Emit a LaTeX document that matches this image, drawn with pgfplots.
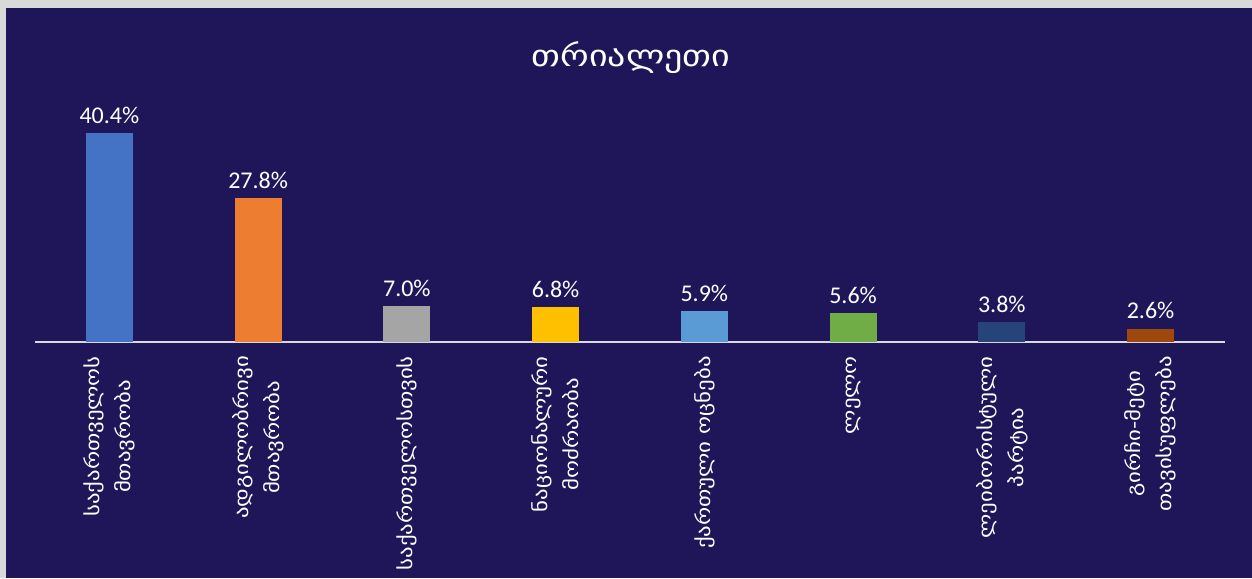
\documentclass[border=0pt]{standalone}
\usepackage{fontspec}
\setmainfont{Carlito}
\newfontfamily\geo[FakeStretch=1.2]{DejaVu Sans}
\usepackage{pgfplots}
\pgfplotsset{compat=1.18}

\definecolor{bg}{HTML}{1F165A}
\definecolor{frame}{HTML}{D9D9D9}
\definecolor{c1}{HTML}{4472C4}
\definecolor{c2}{HTML}{ED7D31}
\definecolor{c3}{HTML}{A5A5A5}
\definecolor{c4}{HTML}{FFC000}
\definecolor{c5}{HTML}{5B9BD5}
\definecolor{c6}{HTML}{70AD47}
\definecolor{c7}{HTML}{264478}
\definecolor{c8}{HTML}{9E480E}

\pgfplotsset{
  onebar/.style={ybar, bar shift=0pt, bar width=47pt, draw=none, fill=#1},
}

\begin{document}
\begin{tikzpicture}
\path[use as bounding box] (0,0) rectangle (1252pt,578pt);
\fill[frame] (0,0) rectangle (1252pt,578pt);
\fill[bg] (6pt,0) rectangle (1252pt,570pt);
\node[anchor=base, text=white, font=\geo\fontsize{30}{36}\selectfont] at (631pt,511pt) {თრიალეთი};

\begin{axis}[
  at={(35pt,236pt)}, anchor=south west,
  scale only axis, width=1190pt, height=237.8pt,
  xmin=-0.5, xmax=7.5, ymin=0, ymax=46,
  axis y line=none,
  axis x line=bottom,
  x axis line style={draw=frame, line width=1.5pt, -},
  xtick={0,...,7},
  major tick length=0pt,
  xticklabels={{საქართველოს\\მთავრობა},{ადგილობრივი\\მთავრობა},{საქართველოსთვის},{ნაციონალური\\მოძრაობა},{ქართული ოცნება},{ლელო},{ლეიბორისტული\\პარტია},{გირჩი-მეტი\\თავისუფლება}},
  xticklabel style={rotate=90, anchor=east, align=center, text=white,
    font=\geo\fontsize{19}{31}\selectfont, inner sep=0pt, xshift=-14pt},
  /pgf/number format/assume math mode=true,
  nodes near coords={\pgfmathprintnumber[fixed,fixed zerofill,precision=1,assume math mode=true]{\pgfplotspointmeta}\%},
  every node near coord/.append style={text=white, font=\fontsize{24}{28}\selectfont, yshift=6pt},
]
\addplot[onebar=c1] coordinates {(0,40.4)};
\addplot[onebar=c2] coordinates {(1,27.8)};
\addplot[onebar=c3] coordinates {(2,7.0)};
\addplot[onebar=c4] coordinates {(3,6.8)};
\addplot[onebar=c5] coordinates {(4,5.9)};
\addplot[onebar=c6] coordinates {(5,5.6)};
\addplot[onebar=c7] coordinates {(6,3.8)};
\addplot[onebar=c8] coordinates {(7,2.6)};
\end{axis}
\end{tikzpicture}
\end{document}
